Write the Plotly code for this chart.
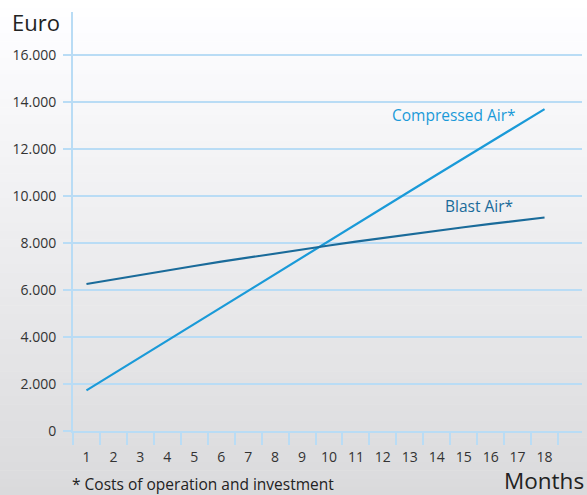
import plotly.graph_objects as go

months = list(range(1, 19))
month_labels = [str(m) for m in months]
compressed_air = [1730, 2439, 3148, 3857, 4566, 5275, 5984, 6693, 7402,
                  8107, 8806, 9505, 10204, 10903, 11602, 12301, 13000, 13699]
blast_air = [6255, 6453, 6647, 6837, 7023, 7205, 7383, 7557, 7727,
             7894, 8057, 8216, 8371, 8522, 8669, 8812, 8951, 9086]
y_ticks = [0, 2000, 4000, 6000, 8000, 10000, 12000, 14000, 16000]
y_tick_labels = ["0", "2.000", "4.000", "6.000", "8.000", "10.000", "12.000", "14.000", "16.000"]

GRID = "#b9dcf5"
C_COMP = "#1a9ad8"
C_BLAST = "#1a6b9a"
FONT = "Open Sans"

W, H = 587, 495
L, R, T, B = 73, 5, 12, 64
pw, ph = W - L - R, H - T - B

fig = go.Figure()
fig.add_trace(go.Scatter(x=months, y=compressed_air, mode="lines",
                         line=dict(color=C_COMP, width=2.2), showlegend=False))
fig.add_trace(go.Scatter(x=months, y=blast_air, mode="lines",
                         line=dict(color=C_BLAST, width=2.2), showlegend=False))

# background gradient (white top -> light grey bottom)
shapes = []
n = 60
for i in range(n):
    py0 = H * i / n
    py1 = H * (i + 1) / n + 0.5
    t = (i + 0.5) / n
    v = round(255 - t * (255 - 218))
    shapes.append(dict(type="rect", xref="paper", yref="paper", layer="below",
                       x0=(0 - L) / pw, x1=(W - L) / pw,
                       y0=(H - B - py1) / ph, y1=(H - B - py0) / ph,
                       fillcolor=f"rgb({v},{v},{min(255, v + 2)})", line=dict(width=0)))

annotations = [
    dict(text="Compressed Air*", x=17.02, y=13450, xref="x", yref="y",
         xanchor="right", yanchor="middle", showarrow=False,
         font=dict(family=FONT, size=15.5, color=C_COMP)),
    dict(text="Blast Air*", x=16.92, y=9560, xref="x", yref="y",
         xanchor="right", yanchor="middle", showarrow=False,
         font=dict(family=FONT, size=15.5, color=C_BLAST)),
    dict(text="Euro", x=(10 - L) / pw, y=(H - B - 22) / ph, xref="paper", yref="paper",
         xanchor="left", yanchor="middle", showarrow=False,
         font=dict(family=FONT, size=22, color="#222222")),
    dict(text="Months", x=(585 - L) / pw, y=(H - B - 480) / ph, xref="paper", yref="paper",
         xanchor="right", yanchor="middle", showarrow=False, borderpad=0,
         font=dict(family=FONT, size=22.5, color="#222222")),
    dict(text="* Costs of operation and investment", x=(70 - L) / pw, y=(H - B - 484) / ph,
         xref="paper", yref="paper", xanchor="left", yanchor="middle", showarrow=False,
         font=dict(family=FONT, size=15.5, color="#222222")),
]

fig.update_layout(
    width=W, height=H,
    margin=dict(l=L, r=R, t=T, b=B, pad=0),
    paper_bgcolor="white", plot_bgcolor="rgba(0,0,0,0)",
    shapes=shapes, annotations=annotations,
    font=dict(family=FONT, size=13, color="#333333"),
)
fig.update_xaxes(
    range=[0.5, 19.39], tickvals=months, ticktext=month_labels,
    ticks="outside", ticklen=12, tickcolor="rgba(0,0,0,0)",
    showgrid=False, zeroline=False,
    showline=True, linecolor=GRID, linewidth=2,
    tickfont=dict(family=FONT, size=14, color="#333333"),
    minor=dict(tick0=0.5, dtick=1, ticks="outside", ticklen=12,
               tickcolor=GRID, tickwidth=2, showgrid=False),
)
fig.update_yaxes(
    range=[0, 17830], tickvals=y_ticks, ticktext=y_tick_labels,
    ticks="outside", ticklen=8, tickcolor=GRID, tickwidth=2,
    showgrid=True, gridcolor=GRID, gridwidth=2, zeroline=False,
    showline=True, linecolor=GRID, linewidth=2, ticklabelstandoff=4,
    tickfont=dict(family=FONT, size=14, color="#333333"),
)

fig.write_html("out.html", config={"displayModeBar": False},
               post_script="document.body.style.margin='0';")
